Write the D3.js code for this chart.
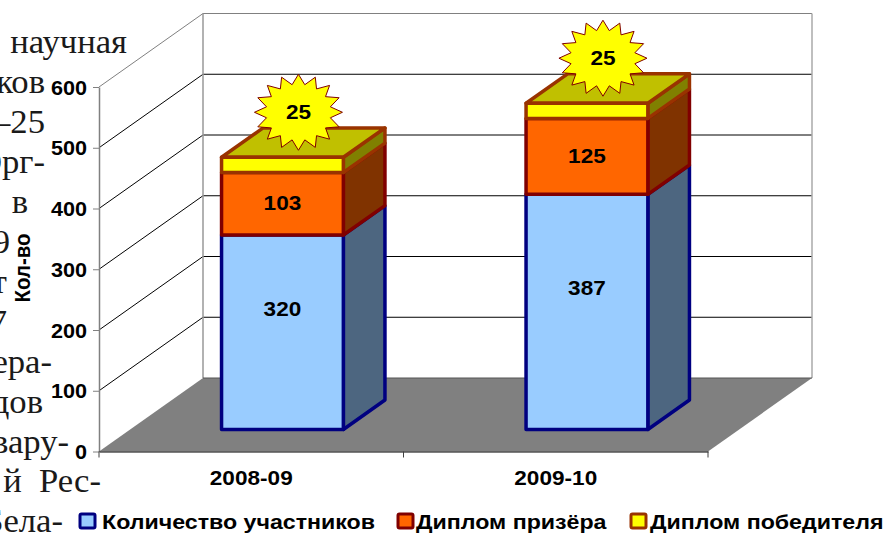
<!DOCTYPE html>
<html>
<head>
<meta charset="utf-8">
<script src="https://cdn.jsdelivr.net/npm/d3@7"></script>
<style>
  html, body { margin: 0; padding: 0; background: #fff; }
  svg { display: block; }
</style>
</head>
<body>
<div id="chart"></div>
<script>
// values
const years = ["2008-09", "2009-10"];
const seriesNames = ["Количество участников", "Диплом призёра", "Диплом победителя"];
const participants = [320, 387];
const runnersUp = [103, 125];
const winners = [25, 25];
const yTicks = [0, 100, 200, 300, 400, 500, 600];

// the page text the chart was pasted over, clipped by the picture edge
const pageLines = ["научная", "ков", "–25", "Орг-", "в", "9", "т", "7", "ера-", "дов", "вару-", "й\u00A0\u00A0Рес-", "Бела-"];
const pageLineEnds = [127, 45, 45, 45, 28, 10, 7, 7, 52, 43, 69, 101, 63];

const width = 888, height = 534;
const sx = 1.13; // the picture is stretched sideways, so is its text
const font = "'Liberation Sans', Arial, sans-serif";

const colors = [
  {front: "#99ccff", side: "#4d6680", edge: "#000080"},
  {front: "#ff6600", side: "#803300", edge: "#800000"},
  {front: "#ffff00", side: "#808000", top: "#c0c000", edge: "#993300"}
];
const labelShift = [-23, 0]; // 3d labels sit off the middle of the face

const table = years.map((y, i) => ({year: y, a: participants[i], b: runnersUp[i], c: winners[i]}));
const stacked = d3.stack().keys(["a", "b", "c"])(table);

const x = d3.scaleBand(years, [99, 708]).paddingInner(0.6).paddingOuter(0.3);
const y = d3.scaleLinear([0, 600], [451.5, 87]);
const depthX = d3.scaleLinear([0, 1], [0, 104]);
const depthY = d3.scaleLinear([0, 1], [0, -73.5]);
const nearDepth = 0.3, farDepth = 0.7;

// front-plane position + depth -> screen point
const pt = (px, v, d) => [px + depthX(d), y(v) + depthY(d)];
const poly = pts => pts.map(p => p.join(",")).join(" ");

const svg = d3.select("#chart").append("svg")
    .attr("width", width)
    .attr("height", height)
    .attr("viewBox", [0, 0, width, height]);

// text behind the chart
svg.append("g")
    .attr("font-family", "'Liberation Serif', 'Times New Roman', serif")
    .attr("font-size", 33)
    .attr("fill", "#1a1a1a")
    .attr("text-anchor", "end")
  .selectAll("text")
  .data(pageLines)
  .join("text")
    .attr("transform", (d, i) => `translate(${pageLineEnds[i]},${53 + i * 39.95}) scale(1.05,1)`)
    .text(d => d);

// walls and floor
const x0 = x.range()[0], x1 = x.range()[1];
const walls = svg.append("g");
walls.append("polygon")
    .attr("points", poly([pt(x0, 0, 0), pt(x1, 0, 0), pt(x1, 0, 1), pt(x0, 0, 1)]))
    .attr("fill", "#808080");

walls.selectAll(".grid")
  .data(yTicks.filter(d => d > 0 && d < 600))
  .join("polyline")
    .attr("class", "grid")
    .attr("fill", "none")
    .attr("stroke", "#000")
    .attr("points", d => poly([pt(x0, d, 0), pt(x0, d, 1), pt(x1, d, 1)]));

walls.append("polyline")
    .attr("fill", "none")
    .attr("stroke", "#808080")
    .attr("points", poly([pt(x0, 600, 0), pt(x0, 600, 1), pt(x1, 600, 1)]));
walls.append("line")
    .attr("stroke", "#999")
    .attr("stroke-width", 1.5)
    .attr("x1", pt(x0, 0, 1)[0]).attr("y1", pt(x0, 0, 1)[1])
    .attr("x2", pt(x0, 600, 1)[0]).attr("y2", pt(x0, 600, 1)[1]);
walls.append("line")
    .attr("stroke", "#aaa")
    .attr("stroke-width", 1.5)
    .attr("x1", pt(x1, 0, 1)[0]).attr("y1", pt(x1, 0, 1)[1])
    .attr("x2", pt(x1, 600, 1)[0]).attr("y2", pt(x1, 600, 1)[1]);
walls.append("line")
    .attr("stroke", "#555")
    .attr("x1", pt(x0, 0, 1)[0]).attr("y1", pt(x0, 0, 1)[1])
    .attr("x2", pt(x1, 0, 1)[0]).attr("y2", pt(x1, 0, 1)[1]);

// bars, bottom segment first so upper edges lie over lower ones
stacked.forEach((s, si) => {
  const c = colors[si];
  const g = svg.append("g")
      .attr("stroke", c.edge)
      .attr("stroke-width", 3.5)
      .attr("stroke-linejoin", "round");
  s.forEach(d => {
    const l = x(d.data.year), r = l + x.bandwidth();
    g.append("polygon") // side
        .attr("fill", c.side)
        .attr("points", poly([pt(r, d[0], nearDepth), pt(r, d[0], farDepth), pt(r, d[1], farDepth), pt(r, d[1], nearDepth)]));
    if (c.top) g.append("polygon")
        .attr("fill", c.top)
        .attr("points", poly([pt(l, d[1], nearDepth), pt(r, d[1], nearDepth), pt(r, d[1], farDepth), pt(l, d[1], farDepth)]));
    g.append("polygon") // front
        .attr("fill", c.front)
        .attr("points", poly([pt(l, d[0], nearDepth), pt(r, d[0], nearDepth), pt(r, d[1], nearDepth), pt(l, d[1], nearDepth)]));
  });
});

// y axis
const yAxis = svg.append("g")
    .attr("transform", `translate(${x0},0)`)
    .call(d3.axisLeft(y).tickValues(yTicks).tickSize(6).tickPadding(6).tickSizeOuter(0));
yAxis.select(".domain").attr("stroke", "#808080").attr("stroke-width", 1.5);
yAxis.selectAll(".tick line").attr("stroke", "#808080");
yAxis.selectAll(".tick text")
    .attr("x", null)
    .attr("dy", null)
    .attr("dominant-baseline", "central")
    .attr("transform", "translate(-12,0) scale(1.08,1)")
    .attr("font-family", font)
    .attr("font-weight", "bold")
    .attr("font-size", 20)
    .attr("fill", "#000");

// x axis
const xAxis = svg.append("g")
    .attr("transform", `translate(0,${y(0)})`)
    .call(d3.axisBottom(x).tickSize(0).tickPadding(0));
xAxis.select(".domain").attr("stroke", "#000").attr("stroke-width", 1);
xAxis.selectAll(".tick text")
    .attr("y", null)
    .attr("dy", null)
    .attr("transform", `translate(0,33) scale(${sx},1)`)
    .attr("font-family", font)
    .attr("font-weight", "bold")
    .attr("font-size", 20)
    .attr("fill", "#000");
svg.append("g")
    .attr("stroke", "#404040")
  .selectAll("line")
  .data([x0, (x0 + x1) / 2, x1])
  .join("line")
    .attr("x1", d => d).attr("x2", d => d)
    .attr("y1", y(0)).attr("y2", y(0) + 6);

// y title
svg.append("text")
    .attr("transform", "translate(30,268) rotate(-90) scale(1,1.1)")
    .attr("text-anchor", "middle")
    .attr("font-family", font)
    .attr("font-weight", "bold")
    .attr("font-size", 20.5)
    .text("Кол-во");

// value labels on the two lower segments
const barMid = year => x(year) + x.bandwidth() / 2 + depthX(nearDepth);
stacked.slice(0, 2).forEach((s, si) => {
  svg.append("g")
    .selectAll("text")
    .data(s)
    .join("text")
      .attr("transform", d => `translate(${barMid(d.data.year)},${pt(0, (d[0] + d[1]) / 2, nearDepth)[1] + labelShift[si]}) scale(${sx},1)`)
      .attr("text-anchor", "middle")
      .attr("dominant-baseline", "central")
      .attr("font-family", font)
      .attr("font-weight", "bold")
      .attr("font-size", 20)
      .text(d => d[1] - d[0]);
});

// winners get a burst sitting on top of the bar
const spikes = 16;
const burst = d3.range(spikes * 2).map(i => {
  const a = i * Math.PI / spikes, k = i % 2 ? 0.74 : 1;
  return [44 * k * Math.sin(a), -38 * k * Math.cos(a)];
});
const stars = svg.append("g")
  .selectAll("g")
  .data(stacked[2])
  .join("g")
    .attr("transform", d => `translate(${barMid(d.data.year) + 16},${pt(0, d[1], nearDepth)[1] - 45})`);
stars.append("polygon")
    .attr("points", poly(burst))
    .attr("fill", "#ffff00")
    .attr("stroke", "#800000")
    .attr("stroke-width", 1);
stars.append("text")
    .attr("transform", `scale(${sx},1)`)
    .attr("text-anchor", "middle")
    .attr("dominant-baseline", "central")
    .attr("font-family", font)
    .attr("font-weight", "bold")
    .attr("font-size", 20)
    .text(d => d[1] - d[0]);

// legend
const legendX = [80, 398, 631];
const legendTextX = [102, 416, 650];
const legend = svg.append("g")
  .selectAll("g")
  .data(seriesNames)
  .join("g")
    .attr("transform", (d, i) => `translate(${legendX[i]},514)`);
legend.append("rect")
    .attr("width", 15).attr("height", 14)
    .attr("rx", 1.5)
    .attr("fill", (d, i) => colors[i].front)
    .attr("stroke", (d, i) => colors[i].edge)
    .attr("stroke-width", 3);
legend.append("text")
    .attr("transform", (d, i) => `translate(${legendTextX[i] - legendX[i]},8) scale(1.16,1)`)
    .attr("dominant-baseline", "central")
    .attr("font-family", font)
    .attr("font-weight", "bold")
    .attr("font-size", 20)
    .text(d => d);
</script>
</body>
</html>
